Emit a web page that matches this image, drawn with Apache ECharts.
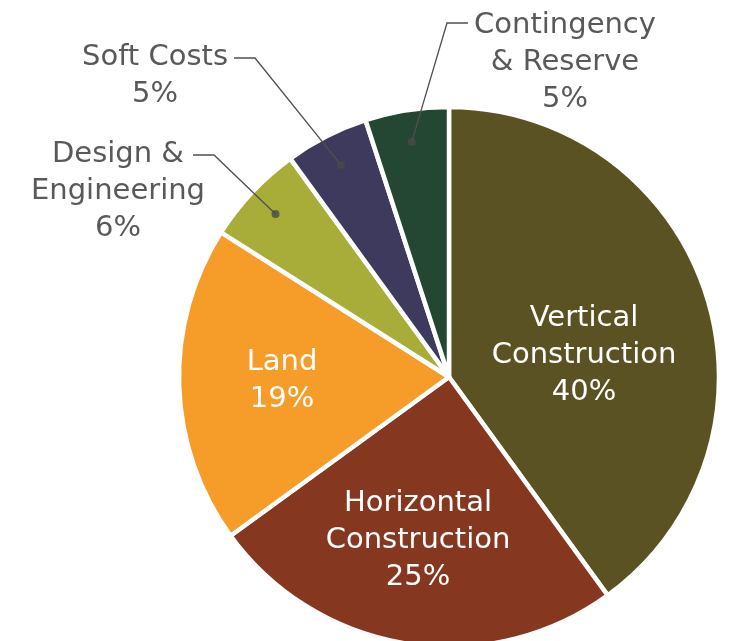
<!DOCTYPE html>
<html>
<head>
<meta charset="utf-8">
<style>html,body{margin:0;padding:0;background:#fff;}#c{width:732px;height:641px;}</style>
<script src="https://cdn.jsdelivr.net/npm/echarts@6/dist/echarts.min.js"></script>
</head>
<body>
<div id="c"></div>
<script>
const categories = ['Vertical Construction', 'Horizontal Construction', 'Land', 'Design & Engineering', 'Soft Costs', 'Contingency & Reserve'];
const labelNames = ['Vertical\nConstruction', 'Horizontal\nConstruction', 'Land', 'Design &\nEngineering', 'Soft Costs', 'Contingency\n& Reserve'];
const values = [40, 25, 19, 6, 5, 5];
const colors = ['#5b5223', '#863720', '#f69c28', '#a8ad3a', '#3e3a5e', '#244733'];
const insideIdx = [0, 1, 2];
const outsideIdx = [3, 4, 5];

const CX = 449, CY = 377, R = 270, RDOT = 238;
const FONT = 'DejaVu Sans';
const FS = 29, LH = 37;

// label placement (layout, not data)
const insidePos = { 0: [584, 355], 1: [418, 540], 2: [282, 381] };
const outsidePos = {
  3: { c: [118, 191], kink: [214, 155], end: [193, 155] },
  4: { c: [155, 76], kink: [255, 58], end: [234, 58] },
  5: { c: [565, 62], kink: [447, 23], end: [468, 23] }
};

const total = values.reduce((a, b) => a + b, 0);
const mids = [];
let cum = 0;
values.forEach(v => { mids.push(cum + v / 2); cum += v; });

const pieData = categories.map((n, i) => ({
  name: n, value: values[i], itemStyle: { color: colors[i] },
  label: { show: insideIdx.includes(i) }
}));
const innerData = categories.map((n, i) => ({
  name: n, value: values[i],
  label: { show: outsideIdx.includes(i) },
  labelLine: { show: outsideIdx.includes(i) }
}));
const dotData = outsideIdx.map(i => [RDOT, mids[i]]);

const chart = echarts.init(document.getElementById('c'), null, { renderer: 'canvas' });
chart.setOption({
  animation: false,
  backgroundColor: '#ffffff',
  polar: { center: [CX, CY], radius: R },
  angleAxis: { type: 'value', min: 0, max: total, startAngle: 90, clockwise: true, show: false },
  radiusAxis: { type: 'value', min: 0, max: R, show: false },
  series: [
    {
      type: 'pie', z: 2, center: [CX, CY], radius: [0, R], startAngle: 90, clockwise: true,
      silent: true, avoidLabelOverlap: false,
      itemStyle: { borderColor: '#ffffff', borderWidth: 4.5 },
      label: {
        position: 'inside', color: '#ffffff', fontFamily: FONT, fontSize: FS, lineHeight: LH,
        align: 'center',
        formatter: p => labelNames[p.dataIndex] + '\n' + p.value + '%'
      },
      labelLine: { show: false },
      labelLayout: p => {
        const pos = insidePos[p.dataIndex];
        if (!pos) return {};
        return { x: pos[0], y: pos[1], align: 'center', verticalAlign: 'middle' };
      },
      data: pieData
    },
    {
      type: 'pie', z: 3, center: [CX, CY], radius: [0, RDOT], startAngle: 90, clockwise: true,
      silent: true, avoidLabelOverlap: false,
      itemStyle: { color: 'rgba(0,0,0,0)', borderWidth: 0 },
      emphasis: { disabled: true },
      label: {
        position: 'outside', color: '#58595b', fontFamily: FONT, fontSize: FS, lineHeight: LH,
        align: 'center',
        formatter: p => labelNames[p.dataIndex] + '\n' + p.value + '%'
      },
      labelLine: { show: true, length: 20, length2: 20, lineStyle: { color: '#505050', width: 1.3 } },
      labelLayout: p => {
        const o = outsidePos[p.dataIndex];
        if (!o) return {};
        const res = { x: o.c[0], y: o.c[1], align: 'center', verticalAlign: 'middle' };
        if (p.labelLinePoints && p.labelLinePoints[0]) {
          res.labelLinePoints = [p.labelLinePoints[0].slice(), o.kink, o.end];
        }
        return res;
      },
      data: innerData
    },
    {
      type: 'scatter', coordinateSystem: 'polar', z: 4, silent: true,
      symbol: 'circle', symbolSize: 8,
      itemStyle: { color: '#4a4a4a' },
      data: dotData
    }
  ]
});
</script>
</body>
</html>
